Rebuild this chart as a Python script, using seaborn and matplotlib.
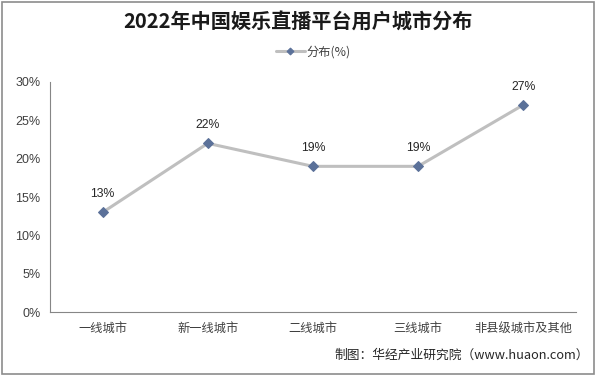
import pandas as pd
import matplotlib.pyplot as plt
import matplotlib.patches as patches
import seaborn as sns

categories = ['一线城市', '新一线城市', '二线城市', '三线城市', '非县级城市及其他']
values = [13, 22, 19, 19, 27]
y_ticks = [0, 5, 10, 15, 20, 25, 30]

df = pd.DataFrame({'city': categories, 'share': values})

sns.set_style('white')
plt.rcParams['font.family'] = ['Noto Sans CJK SC', 'DejaVu Sans']

fig = plt.figure(figsize=(5.96, 3.76), dpi=100)
ax = fig.add_axes([0.084, 0.170, 0.882, 0.612])

sns.lineplot(x='city', y='share', data=df, sort=False, ax=ax,
             color='#BFBFBF', linewidth=2.2, marker='D', markersize=5,
             markerfacecolor='#5B7199', markeredgecolor='#5B7199', label='分布(%)')

for i, v in enumerate(values):
    ax.text(i, v + 1.6, f'{v}%', ha='center', va='bottom', fontsize=8.8,
            color='#262626', family=['Liberation Sans', 'DejaVu Sans'])

ax.set_xlim(-0.5, len(categories) - 0.5)
ax.set_ylim(0, 30)
ax.set_yticks(y_ticks)
ax.set_yticklabels([f'{t}%' for t in y_ticks], family=['Liberation Sans', 'DejaVu Sans'])
ax.set_xticks(range(len(categories)))
ax.set_xticklabels(categories)
ax.set_xticks([i - 0.5 for i in range(len(categories) + 1)], minor=True)
ax.tick_params(axis='x', which='major', length=0, pad=7, labelsize=8.8, colors='#404040')
ax.tick_params(axis='x', which='minor', length=4, width=0.8, color='#868686', direction='out')
ax.tick_params(axis='y', length=4, width=0.8, color='#868686', direction='out',
               labelsize=9, labelcolor='#404040', pad=3)
ax.set_xlabel('')
ax.set_ylabel('')
for side in ['top', 'right']:
    ax.spines[side].set_visible(False)
for side in ['left', 'bottom']:
    ax.spines[side].set_color('#868686')
    ax.spines[side].set_linewidth(0.8)

ax.legend(loc='center', bbox_to_anchor=(0.5, 1.13), frameon=False, fontsize=8.8,
          handlelength=2.4, handletextpad=0.1, markerscale=0.7, labelcolor='#404040')

fig.text(0.5, 0.94, '2022年中国娱乐直播平台用户城市分布', ha='center', va='center',
         fontsize=14.5, fontweight='bold', color='#1a1a1a')
fig.text(0.988, 0.055, '制图：华经产业研究院（www.huaon.com）', ha='right', va='center',
         fontsize=9.2, color='#262626')

fig.patches.append(patches.Rectangle((0.004, 0.006), 0.992, 0.988, transform=fig.transFigure,
                                     fill=False, edgecolor='#8C8C8C', linewidth=1.2))

fig.savefig('out.png', dpi=100)
